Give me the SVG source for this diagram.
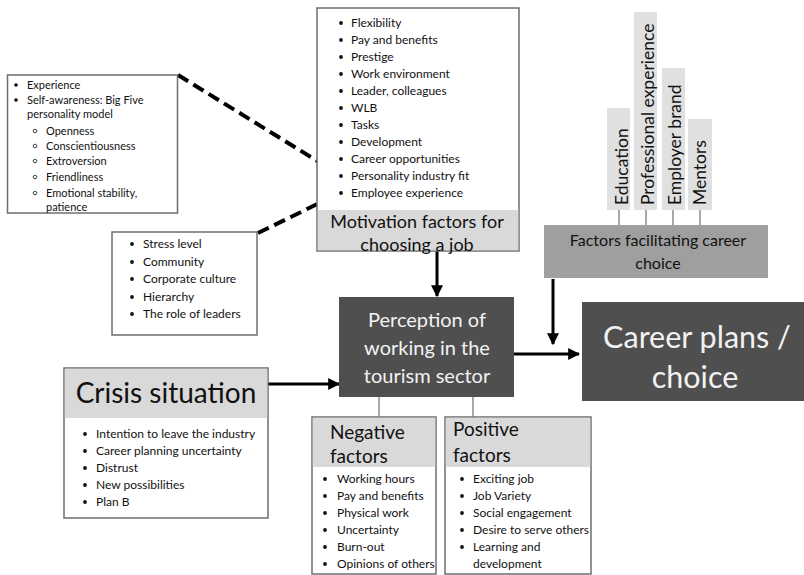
<svg xmlns="http://www.w3.org/2000/svg" width="804" height="575" viewBox="0 0 804 575">
<defs>
<marker id="ah" viewBox="0 0 10 10" refX="9" refY="5" markerWidth="4" markerHeight="4" orient="auto" markerUnits="strokeWidth"><path d="M0,0 L10,5 L0,10 Z" fill="#000"/></marker>
<style>
text{font-family:Lato,"Noto Sans",sans-serif;fill:#111}
.box{fill:#fff;stroke:#6e6e6e;stroke-width:1.5}
.hdr{fill:#d9d9d9}
.li{font-size:12px}
.ls{font-size:11px}
.dot{fill:#111}
.ring{fill:none;stroke:#111;stroke-width:0.8}
.dark{fill:#4f4f4f}
.wt{fill:#f2f2f2}
.tab{fill:#e0e0e0}
.thin{stroke:#6e6e6e;stroke-width:1.2;fill:none}
.arr{stroke:#000;stroke-width:3;fill:none;marker-end:url(#ah)}
.dash{stroke:#000;stroke-width:4;stroke-dasharray:12 6;fill:none}
</style>
</defs>

<g id="connectors">
<line class="dash" x1="178" y1="75" x2="340" y2="175"/>
<line class="dash" x1="258" y1="233" x2="340" y2="193"/>
<line class="arr" x1="437" y1="251" x2="437" y2="296"/>
<line class="arr" x1="268" y1="384" x2="339" y2="384"/>
<line class="arr" x1="514" y1="354" x2="579" y2="354"/>
<line class="arr" x1="553" y1="279" x2="553" y2="344"/>
<line class="thin" x1="379" y1="397" x2="379" y2="417"/>
<line class="thin" x1="473" y1="397" x2="473" y2="417"/>
<line class="thin" x1="619" y1="210" x2="619" y2="225"/>
<line class="thin" x1="646" y1="210" x2="646" y2="225"/>
<line class="thin" x1="673" y1="210" x2="673" y2="225"/>
<line class="thin" x1="700" y1="210" x2="700" y2="225"/>
</g>

<g id="personal">
<rect class="box" x="7.5" y="75" width="170" height="138"/>
<g class="ls">
<circle class="dot" cx="16" cy="85" r="1.8"/><text x="27" y="89">Experience</text>
<circle class="dot" cx="16" cy="100" r="1.8"/><text x="27" y="104">Self-awareness: Big Five</text>
<text x="27" y="118">personality model</text>
<circle class="ring" cx="35" cy="131" r="1.8"/><text x="46" y="135">Openness</text>
<circle class="ring" cx="35" cy="146" r="1.8"/><text x="46" y="150">Conscientiousness</text>
<circle class="ring" cx="35" cy="161" r="1.8"/><text x="46" y="165">Extroversion</text>
<circle class="ring" cx="35" cy="177" r="1.8"/><text x="46" y="181">Friendliness</text>
<circle class="ring" cx="35" cy="193" r="1.8"/><text x="46" y="197">Emotional stability,</text>
<text x="46" y="211">patience</text>
</g>
</g>

<g id="motivation">
<rect class="box" x="317" y="8" width="202" height="243"/>
<rect class="hdr" x="317.75" y="210" width="200.5" height="40.25"/>
<g class="li">
<circle class="dot" cx="341" cy="23" r="1.9"/><text x="351" y="27">Flexibility</text>
<circle class="dot" cx="341" cy="40" r="1.9"/><text x="351" y="44">Pay and benefits</text>
<circle class="dot" cx="341" cy="57" r="1.9"/><text x="351" y="61">Prestige</text>
<circle class="dot" cx="341" cy="74" r="1.9"/><text x="351" y="78">Work environment</text>
<circle class="dot" cx="341" cy="91" r="1.9"/><text x="351" y="95">Leader, colleagues</text>
<circle class="dot" cx="341" cy="108" r="1.9"/><text x="351" y="112">WLB</text>
<circle class="dot" cx="341" cy="125" r="1.9"/><text x="351" y="129">Tasks</text>
<circle class="dot" cx="341" cy="142" r="1.9"/><text x="351" y="146">Development</text>
<circle class="dot" cx="341" cy="159" r="1.9"/><text x="351" y="163">Career opportunities</text>
<circle class="dot" cx="341" cy="176" r="1.9"/><text x="351" y="180">Personality industry fit</text>
<circle class="dot" cx="341" cy="193" r="1.9"/><text x="351" y="197">Employee experience</text>
</g>
<text x="417" y="228" font-size="18" text-anchor="middle">Motivation factors for</text>
<text x="417" y="251" font-size="18" text-anchor="middle">choosing a job</text>
</g>

<g id="culture">
<rect class="box" x="112" y="232" width="145" height="103"/>
<g class="li">
<circle class="dot" cx="132" cy="244" r="1.9"/><text x="143" y="248">Stress level</text>
<circle class="dot" cx="132" cy="262" r="1.9"/><text x="143" y="266">Community</text>
<circle class="dot" cx="132" cy="279" r="1.9"/><text x="143" y="283">Corporate culture</text>
<circle class="dot" cx="132" cy="297" r="1.9"/><text x="143" y="301">Hierarchy</text>
<circle class="dot" cx="132" cy="314" r="1.9"/><text x="143" y="318">The role of leaders</text>
</g>
</g>

<g id="crisis">
<rect class="box" x="64" y="368" width="204" height="150"/>
<rect class="hdr" x="64.75" y="368.75" width="202.5" height="49.25"/>
<text x="166" y="403" font-size="28" text-anchor="middle">Crisis situation</text>
<g class="li">
<circle class="dot" cx="85" cy="434" r="1.9"/><text x="96" y="438">Intention to leave the industry</text>
<circle class="dot" cx="85" cy="451" r="1.9"/><text x="96" y="455">Career planning uncertainty</text>
<circle class="dot" cx="85" cy="468" r="1.9"/><text x="96" y="472">Distrust</text>
<circle class="dot" cx="85" cy="485" r="1.9"/><text x="96" y="489">New possibilities</text>
<circle class="dot" cx="85" cy="502" r="1.9"/><text x="96" y="506">Plan B</text>
</g>
</g>

<g id="perception">
<rect class="dark" x="339" y="297" width="175" height="100"/>
<g font-size="20" text-anchor="middle">
<text class="wt" x="427" y="327">Perception of</text>
<text class="wt" x="427" y="355">working in the</text>
<text class="wt" x="427" y="383">tourism sector</text>
</g>
</g>

<g id="negative">
<rect class="box" x="312" y="417" width="124" height="157"/>
<rect class="hdr" x="312.75" y="417.75" width="122.5" height="49.25"/>
<text x="330" y="439" font-size="19">Negative</text>
<text x="330" y="463" font-size="19">factors</text>
<g class="li">
<circle class="dot" cx="325" cy="479" r="1.9"/><text x="337" y="483">Working hours</text>
<circle class="dot" cx="325" cy="496" r="1.9"/><text x="337" y="500">Pay and benefits</text>
<circle class="dot" cx="325" cy="513" r="1.9"/><text x="337" y="517">Physical work</text>
<circle class="dot" cx="325" cy="530" r="1.9"/><text x="337" y="534">Uncertainty</text>
<circle class="dot" cx="325" cy="547" r="1.9"/><text x="337" y="551">Burn-out</text>
<circle class="dot" cx="325" cy="564" r="1.9"/><text x="337" y="568">Opinions of others</text>
</g>
</g>

<g id="positive">
<rect class="box" x="445" y="417" width="146" height="157"/>
<rect class="hdr" x="445.75" y="417.75" width="144.5" height="49.25"/>
<text x="453" y="436" font-size="19">Positive</text>
<text x="453" y="462" font-size="19">factors</text>
<g class="li">
<circle class="dot" cx="462" cy="479" r="1.9"/><text x="473" y="483">Exciting job</text>
<circle class="dot" cx="462" cy="496" r="1.9"/><text x="473" y="500">Job Variety</text>
<circle class="dot" cx="462" cy="513" r="1.9"/><text x="473" y="517">Social engagement</text>
<circle class="dot" cx="462" cy="530" r="1.9"/><text x="473" y="534">Desire to serve others</text>
<circle class="dot" cx="462" cy="547" r="1.9"/><text x="473" y="551">Learning and</text>
<text x="473" y="568">development</text>
</g>
</g>

<g id="career">
<rect class="dark" x="582" y="302" width="222" height="99"/>
<text class="wt" x="697" y="348" font-size="30.5" text-anchor="middle">Career plans /</text>
<text class="wt" x="695" y="388" font-size="30.5" text-anchor="middle">choice</text>
</g>

<g id="facilitating">
<rect x="544" y="225" width="224" height="53" fill="#9f9f9f"/>
<text x="658" y="246" font-size="16" text-anchor="middle">Factors facilitating career</text>
<text x="658" y="269" font-size="16" text-anchor="middle">choice</text>
</g>

<g id="education">
<rect class="tab" x="607" y="108" width="23" height="102"/>
<text transform="translate(628,205) rotate(-90)" font-size="17.5">Education</text>
</g>
<g id="professional">
<rect class="tab" x="634" y="12" width="23" height="198"/>
<text transform="translate(654,205) rotate(-90)" font-size="17.5">Professional experience</text>
</g>
<g id="employer">
<rect class="tab" x="662" y="68" width="23" height="142"/>
<text transform="translate(681,205) rotate(-90)" font-size="17.5">Employer brand</text>
</g>
<g id="mentors">
<rect class="tab" x="688" y="119" width="24" height="91"/>
<text transform="translate(706,205) rotate(-90)" font-size="17.5">Mentors</text>
</g>
</svg>
